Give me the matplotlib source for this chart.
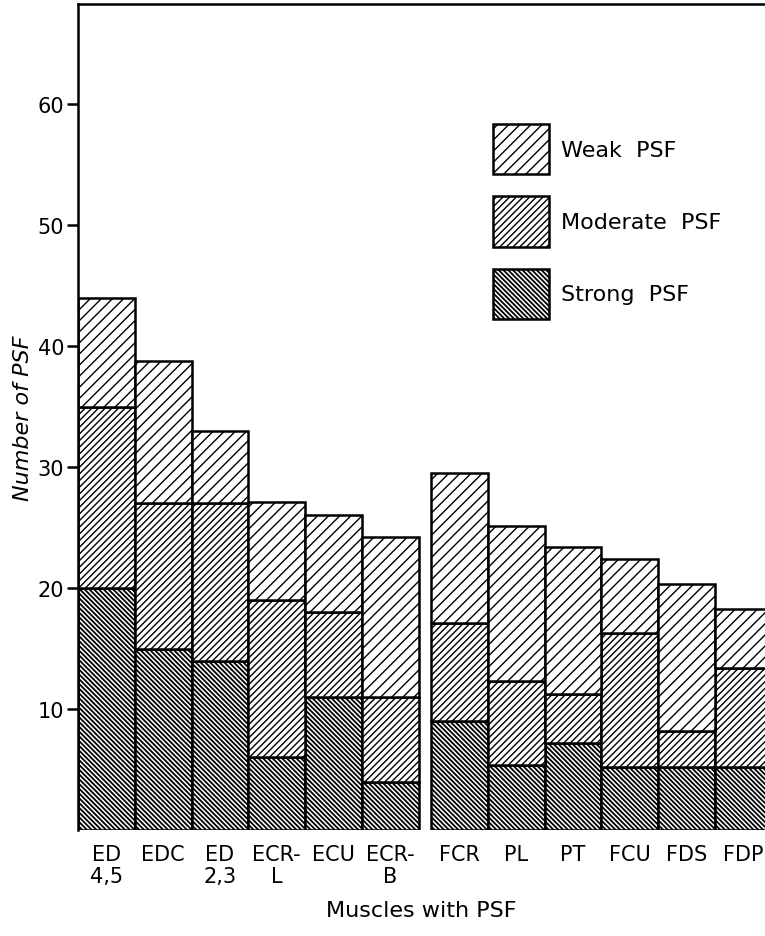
import matplotlib.pyplot as plt
import numpy as np

# muscles and PSF counts per strength class (segment heights)
muscles = ["ED\n4,5", "EDC", "ED\n2,3", "ECR-\nL", "ECU", "ECR-\nB",
           "FCR", "PL", "PT", "FCU", "FDS", "FDP"]
strong = [20, 15, 14, 6, 11, 4, 9, 5.4, 7.2, 5.2, 5.2, 5.2]
moderate = [15, 12, 13, 13, 7, 7, 8.1, 6.9, 4.0, 11.1, 3.0, 8.2]
weak = [9, 11.8, 6, 8.1, 8, 13.2, 12.4, 12.8, 12.2, 6.1, 12.1, 4.9]
yticks = [10, 20, 30, 40, 50, 60]

plt.rcParams['font.family'] = 'DejaVu Sans'
plt.rcParams['hatch.linewidth'] = 1.0
plt.rcParams['hatch.color'] = 'black'

fig = plt.figure(figsize=(7.65, 9.37), dpi=100)
ax = fig.add_axes([78 / 765, 1 - 831 / 937, 687 / 765, 826 / 937])

# two groups of six bars with a small gap between extensors and flexors
gap = 0.22
x = np.r_[np.arange(6), np.arange(6) + 6 + gap]

strong = np.array(strong)
moderate = np.array(moderate)
weak = np.array(weak)

kw = dict(width=1.0, align='edge', color='white', edgecolor='black', linewidth=1.8)
b_strong = ax.bar(x, strong, hatch='\\' * 7, **kw)
b_mod = ax.bar(x, moderate, bottom=strong, hatch='/' * 5, **kw)
b_weak = ax.bar(x, weak, bottom=strong + moderate, hatch='///', **kw)

# heavier lines for the strong class, if this matplotlib supports it
for p in b_strong:
    if hasattr(p, 'set_hatch_linewidth'):
        p.set_hatch_linewidth(1.3)

ax.set_xlim(0, 12.1)
ax.set_ylim(0, 826 / 12.1)

ax.set_yticks(yticks)
ax.tick_params(axis='y', direction='out', length=8, width=1.8, labelsize=15, pad=2)
ax.set_xticks(x + 0.5)
ax.set_xticklabels(muscles, fontsize=15, linespacing=1.15)
ax.tick_params(axis='x', length=0, pad=10)

for s in ['right', 'bottom']:
    ax.spines[s].set_visible(False)
for s in ['left', 'top']:
    ax.spines[s].set_linewidth(1.8)

ax.set_ylabel("Number of PSF", fontsize=16, style='italic')
ax.yaxis.set_label_coords(-0.066, 0.5)
ax.set_xlabel("Muscles with PSF", fontsize=16, labelpad=10)

leg = ax.legend([b_weak, b_mod, b_strong], ["Weak  PSF", "Moderate  PSF", "Strong  PSF"],
                loc='upper left', bbox_to_anchor=(493 / 765, 1 - 125 / 937),
                bbox_transform=fig.transFigure, frameon=False, fontsize=16,
                handlelength=2.5, handleheight=3.1, labelspacing=1.0,
                handletextpad=0.55, borderpad=0, borderaxespad=0)
for h in leg.legend_handles:
    if hasattr(h, 'set_hatch_linewidth') and h.get_hatch().startswith('\\'):
        h.set_hatch_linewidth(1.3)

fig.savefig("out.png", dpi=100)
